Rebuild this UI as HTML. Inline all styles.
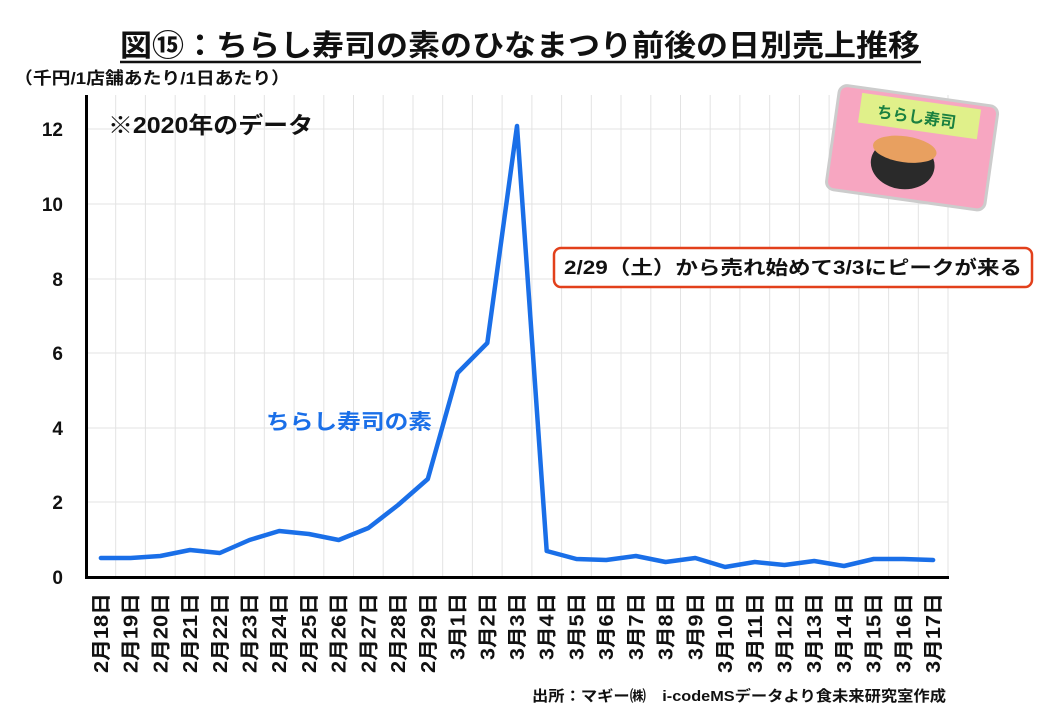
<!DOCTYPE html>
<html><head><meta charset="utf-8"><style>
html,body{margin:0;padding:0;background:#fff;}
svg{display:block;font-family:"Liberation Sans","Noto Sans CJK JP",sans-serif;}
</style></head><body>
<svg width="1040" height="720" viewBox="0 0 1040 720" xmlns="http://www.w3.org/2000/svg">
<rect width="1040" height="720" fill="#fff"/>
<text x="120" y="56" font-size="30" font-weight="bold" textLength="800" lengthAdjust="spacingAndGlyphs" fill="#111">図⑮：ちらし寿司の素のひなまつり前後の日別売上推移</text>
<line x1="120" y1="62" x2="921" y2="62" stroke="#111" stroke-width="2.5"/>
<text x="14" y="84" font-size="17" font-weight="bold" textLength="276" lengthAdjust="spacingAndGlyphs" fill="#111">（千円/1店舗あたり/1日あたり）</text>
<g id="grid" stroke="#e3e3e3" stroke-width="1">
<line x1="86" y1="129" x2="948" y2="129"/>
<line x1="86" y1="204" x2="948" y2="204"/>
<line x1="86" y1="279" x2="948" y2="279"/>
<line x1="86" y1="353" x2="948" y2="353"/>
<line x1="86" y1="428" x2="948" y2="428"/>
<line x1="86" y1="502" x2="948" y2="502"/>
</g>
<g stroke="#e3e3e3" stroke-width="1" id="vg"></g>
<line x1="86.5" y1="95" x2="86.5" y2="578" stroke="#000" stroke-width="3"/>
<line x1="85" y1="577.5" x2="949" y2="577.5" stroke="#000" stroke-width="3"/>
<g font-size="19" font-weight="bold" fill="#111" text-anchor="end">
<text x="63" y="136">12</text><text x="63" y="211">10</text><text x="63" y="286">8</text>
<text x="63" y="360">6</text><text x="63" y="435">4</text><text x="63" y="509">2</text><text x="63" y="584">0</text>
</g>
<text x="108" y="133" font-size="23" font-weight="bold" fill="#111" textLength="205" lengthAdjust="spacingAndGlyphs">※2020年のデータ</text>
<text x="266" y="429" font-size="21" font-weight="bold" fill="#1a6fe8" textLength="166" lengthAdjust="spacingAndGlyphs">ちらし寿司の素</text>
<rect x="554" y="248" width="478" height="39" rx="7" fill="#fff" stroke="#e2401b" stroke-width="2.5"/>
<text x="564" y="274" font-size="19" font-weight="bold" fill="#111" textLength="458" lengthAdjust="spacingAndGlyphs">2/29（土）から売れ始めて3/3にピークが来る</text>
<g transform="rotate(8 910 148)">
<rect x="832" y="95" width="160" height="105" rx="8" fill="#f7a6c1" stroke="#ccc" stroke-width="3"/>
<rect x="855" y="100" width="120" height="30" fill="#e0f08a"/>
<text x="872" y="122" font-size="16" font-weight="bold" fill="#1a8040">ちらし寿司</text>
<ellipse cx="905" cy="165" rx="32" ry="25" fill="#2a2a2a"/>
<ellipse cx="905" cy="150" rx="32" ry="13" fill="#e8a060"/>
</g>
<polyline fill="none" stroke="#1a6fe8" stroke-width="4.5" stroke-linejoin="round" stroke-linecap="round" id="ln" points=""/>
<g id="lbl" font-size="20" font-weight="bold" fill="#111" text-anchor="end"></g>
<text x="532" y="701" font-size="15" font-weight="bold" fill="#111" textLength="414" lengthAdjust="spacingAndGlyphs">出所：マギー㈱　i-codeMSデータより食未来研究室作成</text>
<script>
(function(){
var ys=[558,558,556,550,553,540,531,534,540,528,505,479,373,343,126,551,559,560,556,562,558,567,562,565,561,566,559,559,560];
var labs=["2月18日","2月19日","2月20日","2月21日","2月22日","2月23日","2月24日","2月25日","2月26日","2月27日","2月28日","2月29日","3月1日","3月2日","3月3日","3月4日","3月5日","3月6日","3月7日","3月8日","3月9日","3月10日","3月11日","3月12日","3月13日","3月14日","3月15日","3月16日","3月17日"];
var w=(948-86)/29,pts=[],ns="http://www.w3.org/2000/svg";
var vg=document.getElementById('vg'),lg=document.getElementById('lbl');
for(var i=0;i<29;i++){
 var cx=86+w*(i+0.5);pts.push(cx.toFixed(1)+","+ys[i]);
 var l=document.createElementNS(ns,'line');var gx=(86+w*(i+1)).toFixed(1);
 l.setAttribute('x1',gx);l.setAttribute('x2',gx);l.setAttribute('y1',95);l.setAttribute('y2',577);vg.appendChild(l);
 var t=document.createElementNS(ns,'text');var tx=cx+7,ty=593;
 t.setAttribute('x',tx);t.setAttribute('y',ty);t.setAttribute('transform','rotate(-90 '+tx+' '+ty+')');
 var n=labs[i].length;t.setAttribute('textLength',(n===5?80:67));t.setAttribute('lengthAdjust','spacingAndGlyphs');
 t.textContent=labs[i];lg.appendChild(t);
}
document.getElementById('ln').setAttribute('points',pts.join(' '));
})();
</script>
</svg>
</body></html>
